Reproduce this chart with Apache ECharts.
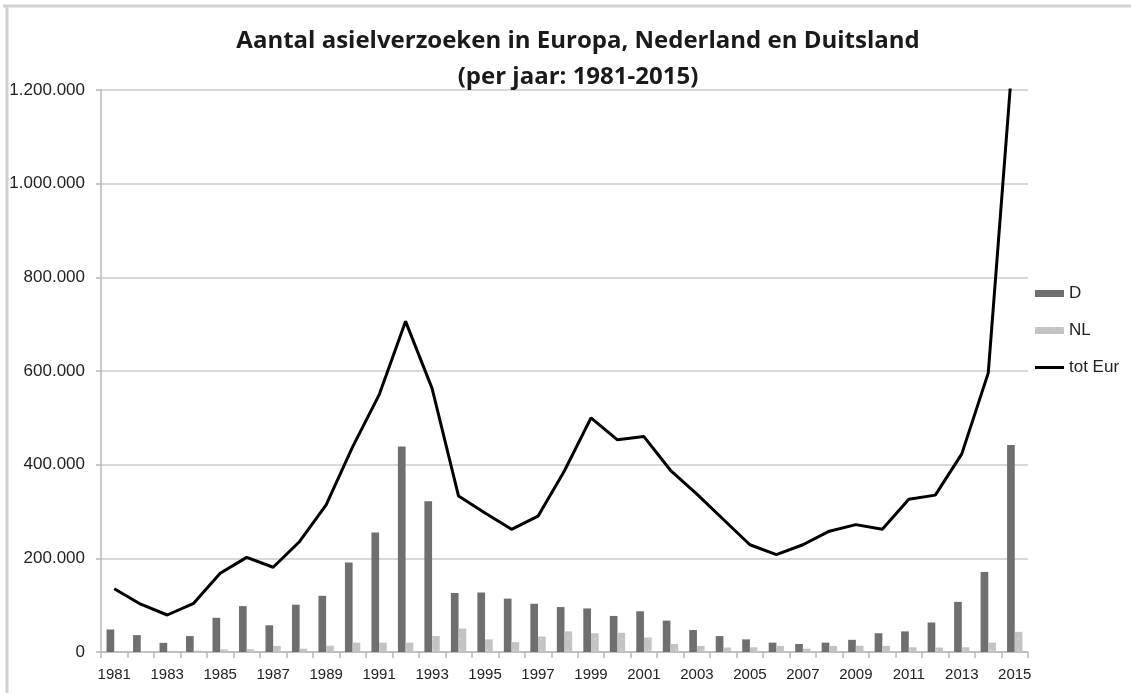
<!DOCTYPE html>
<html>
<head>
<meta charset="utf-8">
<script src="https://cdn.jsdelivr.net/npm/echarts@6/dist/echarts.min.js"></script>
<style>
  html, body { margin: 0; padding: 0; background: #fff; }
  #chart { width: 1131px; height: 693px; }
</style>
</head>
<body>
<div id="chart"></div>
<script>
var years = ['1981','1982','1983','1984','1985','1986','1987','1988','1989','1990',
             '1991','1992','1993','1994','1995','1996','1997','1998','1999','2000',
             '2001','2002','2003','2004','2005','2006','2007','2008','2009','2010',
             '2011','2012','2013','2014','2015'];

// Duitsland
var dValues = [48000, 36000, 19500, 34000, 73000, 98000, 57000, 101000, 120000, 191000,
               255000, 439000, 322000, 126000, 127000, 114000, 103000, 96000, 93000, 77000,
               87000, 67000, 47000, 34000, 27000, 20000, 17000, 20000, 26000, 40000,
               44000, 63000, 107000, 171000, 442000];

// Nederland
var nlValues = [1500, 1800, 2500, 3000, 5500, 6000, 13000, 7000, 13500, 20000,
                20000, 20000, 34000, 50000, 27000, 21000, 33000, 44000, 40000, 41000,
                31000, 17000, 13000, 9500, 10000, 13000, 7000, 13000, 13500, 13000,
                10000, 9500, 10000, 20000, 43000];

// totaal Europa
var eurValues = [135000, 102000, 79000, 104000, 168000, 202000, 181000, 236000, 314000, 438000,
                 549000, 706000, 563000, 333000, 297000, 262000, 290000, 387000, 500000, 453000,
                 460000, 388000, 337000, 283000, 229000, 208000, 229000, 258000, 272000, 262000,
                 326000, 335000, 423000, 596000, 1330000];

var yTicks = [0, 200000, 400000, 600000, 800000, 1000000, 1200000];

function fmtNum(v) {
    return String(v).replace(/\B(?=(\d{3})+(?!\d))/g, '.');
}

var myChart = echarts.init(document.getElementById('chart'));

var fontFam = 'Liberation Sans, Arial, sans-serif';

var option = {
    backgroundColor: '#fff',
    animation: false,
    textStyle: { fontFamily: fontFam },
    title: {
        text: 'Aantal asielverzoeken in Europa, Nederland en Duitsland\n(per jaar: 1981-2015)',
        left: 573,
        textAlign: 'center',
        top: 18,
        textStyle: {
            fontFamily: 'Open Sans, Liberation Sans, sans-serif',
            fontSize: 24,
            fontWeight: 'bold',
            color: '#1a1a1a',
            lineHeight: 36
        }
    },
    legend: {
        orient: 'vertical',
        left: 1035,
        top: 285,
        padding: 0,
        itemWidth: 29,
        itemHeight: 7,
        itemGap: 20,
        textStyle: { fontSize: 17, color: '#222', fontFamily: fontFam },
        data: [
            { name: 'D', icon: 'rect' },
            { name: 'NL', icon: 'rect' },
            { name: 'tot Eur', icon: 'path://M0,0H29V3H0Z' }
        ]
    },
    grid: {
        left: 101,
        right: 103,
        top: 90,
        bottom: 41,
        containLabel: false
    },
    xAxis: {
        type: 'category',
        data: years,
        boundaryGap: true,
        axisLine: { lineStyle: { color: '#b8b8b8', width: 1.5 } },
        axisTick: { show: true, interval: 0, length: 6, lineStyle: { color: '#b8b8b8', width: 1.5 } },
        axisLabel: { interval: 1, color: '#222', fontSize: 15, margin: 15 }
    },
    yAxis: {
        type: 'value',
        min: yTicks[0],
        max: yTicks[yTicks.length - 1],
        interval: yTicks[1] - yTicks[0],
        axisLine: { show: true, lineStyle: { color: '#b8b8b8', width: 1.5 } },
        axisTick: { show: true, length: 5, lineStyle: { color: '#b8b8b8', width: 1.5 } },
        splitLine: { lineStyle: { color: '#cbcbcb', width: 1.5 } },
        axisLabel: {
            color: '#222',
            fontSize: 17,
            margin: 16,
            formatter: function (v) { return fmtNum(v); }
        }
    },
    graphic: [
        {
            type: 'line',
            shape: { x1: 3, y1: 6, x2: 1131, y2: 6 },
            style: { stroke: '#d2d2d2', lineWidth: 3 }
        },
        {
            type: 'line',
            shape: { x1: 7, y1: 6, x2: 7, y2: 693 },
            style: { stroke: '#d2d2d2', lineWidth: 3 }
        }
    ],
    series: [
        {
            name: 'D',
            type: 'bar',
            data: dValues,
            barWidth: '29%',
            barGap: '0%',
            itemStyle: { color: '#6f6f6f' }
        },
        {
            name: 'NL',
            type: 'bar',
            data: nlValues,
            barWidth: '29%',
            itemStyle: {
                color: '#c3c3c3',
                decal: {
                    symbol: 'rect',
                    symbolSize: 0.6,
                    color: 'rgba(255,255,255,0.7)',
                    dashArrayX: [2, 7],
                    dashArrayY: [2, 9]
                }
            }
        },
        {
            name: 'tot Eur',
            type: 'line',
            data: eurValues,
            symbol: 'none',
            showSymbol: false,
            clip: true,
            z: 5,
            lineStyle: { color: '#000', width: 3 },
            itemStyle: { color: '#000' }
        }
    ]
};

myChart.setOption(option);
</script>
</body>
</html>
